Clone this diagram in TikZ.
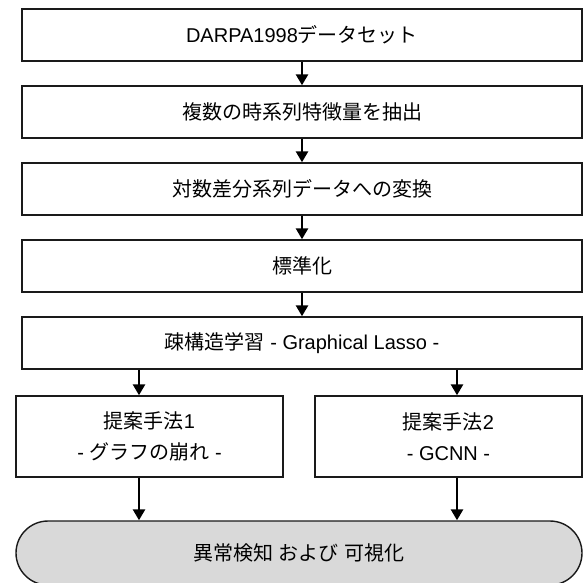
\documentclass[tikz,border=0pt]{standalone}
\usepackage{fontspec}
\setmainfont{Liberation Sans}
\newfontfamily\jp{Noto Sans CJK JP}
\usetikzlibrary{arrows.meta}
\definecolor{ovalgray}{HTML}{D9D9D9}
\definecolor{lineblk}{HTML}{1A1A1A}
\tikzset{
  x=1pt, y=-1pt,
  box/.style={draw=lineblk, line width=1.4pt, fill=white, minimum width=560pt, minimum height=52pt, inner sep=0pt, font=\fontsize{20}{31}\selectfont, align=center},
  subbox/.style={box, minimum width=267pt, minimum height=81pt},
  oval/.style={draw=lineblk, line width=1.4pt, fill=ovalgray, rounded corners=32pt, minimum width=566pt, minimum height=64pt, inner sep=0pt, font=\fontsize{20}{31}\selectfont},
  arr/.style={line width=2.6pt, -{Triangle[width=12pt,length=11pt]}, draw=black}
}
\begin{document}
\begin{tikzpicture}
\useasboundingbox (0,0) rectangle (583,582);
\node[box] (b1) at (302,35) {DARPA1998{\jp データセット}};
\node[box] (b2) at (302,112) {\jp 複数の時系列特徴量を抽出};
\node[box] (b3) at (302,189) {\jp 対数差分系列データへの変換};
\node[box] (b4) at (302,266) {\jp 標準化};
\node[box] (b5) at (302,343) {{\jp 疎構造学習} - Graphical Lasso -};
\node[subbox] (m1) at (149.5,436.5) {{\jp 提案手法}1\\- {\jp グラフの崩れ} -};
\node[subbox] (m2) at (448.5,436.5) {{\jp 提案手法}2\\- GCNN -};
\node[oval] (o) at (299,553) {{\jp 異常検知} {\jp および} {\jp 可視化}};
\coordinate (xl) at (139,0);
\coordinate (xr) at (457,0);
\draw[arr] (b1.south) -- (b2.north);
\draw[arr] (b2.south) -- (b3.north);
\draw[arr] (b3.south) -- (b4.north);
\draw[arr] (b4.south) -- (b5.north);
\draw[arr] (b5.south -| xl) -- (m1.north -| xl);
\draw[arr] (b5.south -| xr) -- (m2.north -| xr);
\draw[arr] (m1.south -| xl) -- (o.north -| xl);
\draw[arr] (m2.south -| xr) -- (o.north -| xr);
\end{tikzpicture}
\end{document}
